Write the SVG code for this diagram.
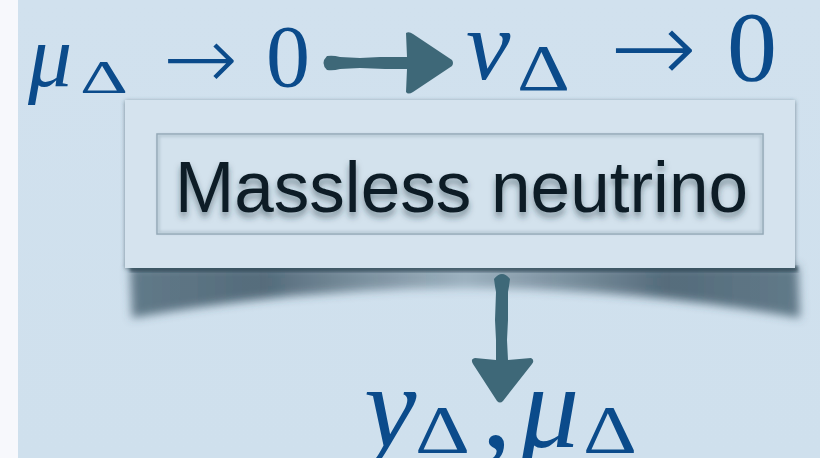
<svg xmlns="http://www.w3.org/2000/svg" width="820" height="458" viewBox="0 0 820 458">
  <defs>
    <style>
      .m { font-family: "Liberation Serif", "DejaVu Serif", serif; fill: #0b4b8b; }
      .it { font-style: italic; }
      .ar { font-family: "DejaVu Sans", sans-serif; font-weight: 200; fill: #0b4b8b; }
      .lbl { font-family: "Liberation Sans", Arial, sans-serif; fill: #0f1d27; }
      .conn { fill: #3e6878; }
    </style>
    <filter id="blur8" x="-20%" y="-50%" width="140%" height="200%">
      <feGaussianBlur stdDeviation="5"/>
    </filter>
    <filter id="boxsh" x="-5%" y="-10%" width="110%" height="120%">
      <feDropShadow dx="0" dy="1" stdDeviation="2" flood-color="#2c4656" flood-opacity="0.6"/>
    </filter>
    <filter id="txtsh" x="-5%" y="-20%" width="110%" height="150%">
      <feDropShadow dx="0" dy="5" stdDeviation="3" flood-color="#1d3442" flood-opacity="0.5"/>
    </filter>
    <filter id="inset" x="-5%" y="-10%" width="110%" height="120%">
      <feGaussianBlur stdDeviation="1.5"/>
    </filter>
    <linearGradient id="bg" x1="0" y1="0" x2="0" y2="1">
      <stop offset="0" stop-color="#d1e1ee"/>
      <stop offset="1" stop-color="#cfe0ed"/>
    </linearGradient>
    <linearGradient id="shg" x1="0" y1="0" x2="1" y2="0">
      <stop offset="0" stop-color="#3d5868" stop-opacity="0.75"/>
      <stop offset="0.2" stop-color="#2a4454" stop-opacity="0.75"/>
      <stop offset="0.5" stop-color="#3d5868" stop-opacity="0.35"/>
      <stop offset="0.8" stop-color="#2a4454" stop-opacity="0.75"/>
      <stop offset="1" stop-color="#3d5868" stop-opacity="0.75"/>
    </linearGradient>
  </defs>

  <rect x="0" y="0" width="820" height="458" fill="#f7f8fc"/>
  <rect x="18" y="0" width="802" height="458" fill="url(#bg)"/>

  <g id="mu-to-zero">
    <text class="m it" x="28" y="86" font-size="88">μ</text>
    <text class="m" x="80" y="93" font-size="46" textLength="48" lengthAdjust="spacingAndGlyphs">Δ</text>
    <text class="ar" x="163" y="89" font-size="88" textLength="75" lengthAdjust="spacingAndGlyphs">→</text>
    <text class="m" x="266" y="86" font-size="88">0</text>
  </g>

  <g id="v-to-zero">
    <text class="m it" x="466" y="79" font-size="100">v</text>
    <text class="m" x="517" y="90" font-size="66" textLength="53" lengthAdjust="spacingAndGlyphs">Δ</text>
    <text class="ar" x="610" y="82" font-size="100" textLength="87" lengthAdjust="spacingAndGlyphs">→</text>
    <text class="m" x="727" y="80" font-size="100">0</text>
  </g>

  <g id="massless">
    <path d="M130 266 L798 266 L800 318 Q465 258 132 318 Z" fill="url(#shg)" filter="url(#blur8)"/>
    <rect x="130" y="266" width="668" height="6" fill="#1c3444" opacity="0.6" filter="url(#inset)"/>
    <rect x="125" y="100" width="670" height="168" fill="#d5e3ee" filter="url(#boxsh)"/>
    <rect x="157" y="134" width="606" height="100" fill="#d3e2ed" stroke="#8ea4b2" stroke-width="1.5"/>
    <rect x="158.5" y="135.5" width="603" height="97" fill="none" stroke="#aabdca" stroke-width="2" filter="url(#inset)"/>
    <text class="lbl" x="175" y="212" font-size="72" textLength="573" lengthAdjust="spacingAndGlyphs" filter="url(#txtsh)">Massless neutrino</text>
  </g>

  <g id="y-mu">
    <text class="m it" x="364" y="447" font-size="118">y</text>
    <text class="m" x="415" y="452" font-size="68" textLength="55" lengthAdjust="spacingAndGlyphs">Δ</text>
    <text class="m" x="482" y="447" font-size="118">,</text>
    <text class="m it" x="520" y="447" font-size="118">μ</text>
    <text class="m" x="583" y="452" font-size="68" textLength="54" lengthAdjust="spacingAndGlyphs">Δ</text>
  </g>

  <g id="connectors">
    <path class="conn" d="M327 56 Q333 55 340 57 L360 58 L380 57 L407 57 L406 33 Q409 31 413 34 L452 60 Q454 63 452 66 L413 92 Q408 95 406 92 L407 69 L385 69 L360 68 L340 69 Q333 71 327 70 Q320 63 327 56 Z"/>
    <path class="conn" d="M494 279 Q502 269 510 279 Q509 287 508 292 L508 320 L507 340 L508 360 L531 358 Q535 360 532 364 L503 401 Q500 404 497 401 L473 364 Q470 359 475 358 L496 360 L496 340 L495 320 L496 292 Q495 287 494 279 Z"/>
  </g>
</svg>
